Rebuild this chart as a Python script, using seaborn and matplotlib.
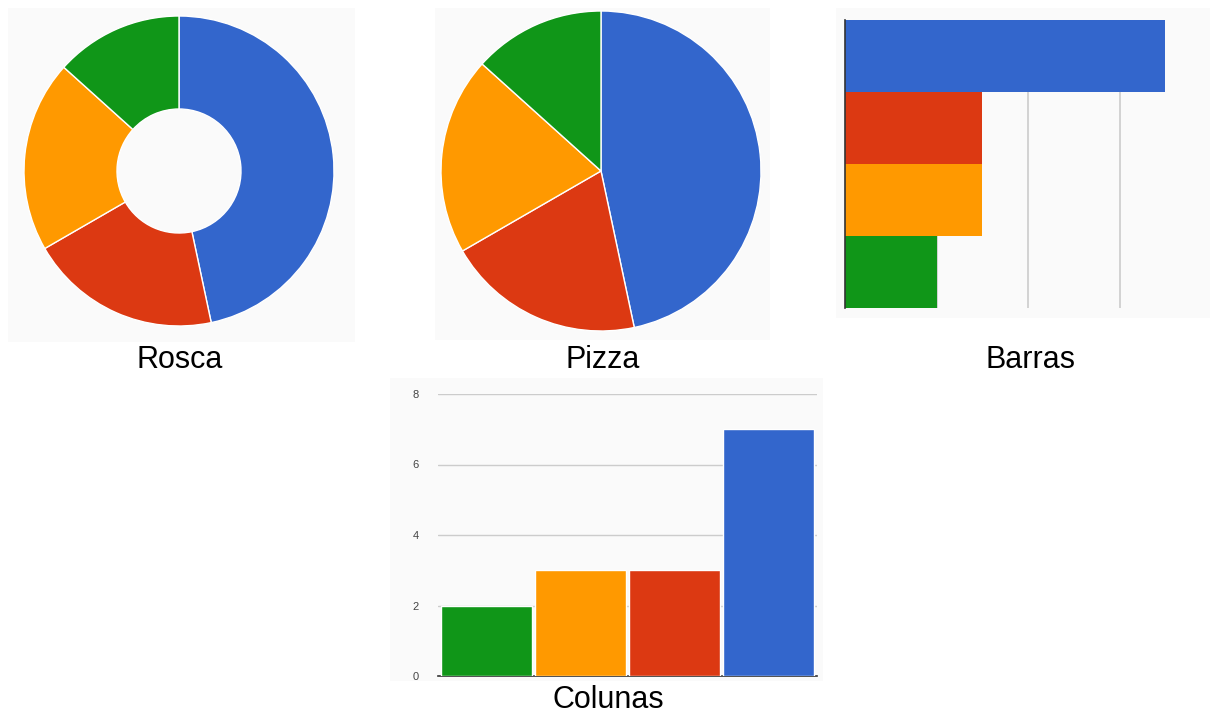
import matplotlib
matplotlib.use('Agg')
import matplotlib.pyplot as plt
import seaborn as sns
from matplotlib.patches import Rectangle

# Data: same four categories shown four ways
categories = ['Azul', 'Vermelho', 'Laranja', 'Verde']
values = [7, 3, 3, 2]
colors = ['#3366cc', '#dc3912', '#ff9900', '#109618']

# Column chart order (ascending)
col_categories = ['Verde', 'Laranja', 'Vermelho', 'Azul']
col_values = [2, 3, 3, 7]
col_colors = ['#109618', '#ff9900', '#dc3912', '#3366cc']

col_ticks = [0, 2, 4, 6, 8]
bar_grid = [2, 4, 6]

sns.set_theme(style='white')
plt.rcParams['font.family'] = ['Liberation Sans', 'DejaVu Sans']

W, H = 1210, 713
fig = plt.figure(figsize=(W / 100, H / 100), dpi=100)
fig.patch.set_facecolor('white')
BG = '#fafafa'


def rect(x0, y0, x1, y1):
    # pixel box (top-left origin) -> figure fraction
    return [x0 / W, 1 - y1 / H, (x1 - x0) / W, (y1 - y0) / H]


def background(x0, y0, x1, y1):
    l, b, w, h = rect(x0, y0, x1, y1)
    fig.patches.append(Rectangle((l, b), w, h, transform=fig.transFigure,
                                 facecolor=BG, edgecolor='none', zorder=-10))


def label(x, y, text):
    fig.text(x / W, 1 - y / H, text, ha='center', va='center', fontsize=22, color='black')


# --- Rosca (donut) ---
background(8, 8, 355, 342)
cx, cy, r = 179, 171, 155
ax1 = fig.add_axes(rect(cx - r, cy - r, cx + r, cy + r))
ax1.pie(values, colors=colors, startangle=90, counterclock=False, radius=1,
        wedgeprops=dict(width=0.6, edgecolor='white', linewidth=1.0))
ax1.set_xlim(-1, 1)
ax1.set_ylim(-1, 1)
ax1.axis('off')
label(180, 360, 'Rosca')

# --- Pizza (pie) ---
background(435, 8, 770, 340)
cx, cy, r = 601, 171, 160
ax2 = fig.add_axes(rect(cx - r, cy - r, cx + r, cy + r))
ax2.pie(values, colors=colors, startangle=90, counterclock=False, radius=1,
        wedgeprops=dict(edgecolor='white', linewidth=1.0))
ax2.set_xlim(-1, 1)
ax2.set_ylim(-1, 1)
ax2.axis('off')
label(603, 360, 'Pizza')

# --- Barras (horizontal bars) ---
background(836, 8, 1210, 318)
ax3 = fig.add_axes(rect(845, 20, 1211, 308))
ax3.set_facecolor('none')
sns.barplot(x=values, y=categories, hue=categories, palette=colors, orient='h',
            width=1.0, legend=False, saturation=1, ax=ax3, zorder=3,
            linewidth=0, edgecolor='none')
for g in bar_grid:
    ax3.axvline(g, color='#cccccc', linewidth=1.2, zorder=1)
ax3.set_xlim(0, 8)
ax3.set_ylim(3.5, -0.5)
ax3.set_xticks([])
ax3.set_yticks([])
ax3.set_xlabel('')
ax3.set_ylabel('')
for s in ['top', 'right', 'bottom']:
    ax3.spines[s].set_visible(False)
ax3.spines['left'].set_color('#333333')
ax3.spines['left'].set_linewidth(1.2)
ax3.spines['left'].set_zorder(5)
label(1030, 360, 'Barras')

# --- Colunas (vertical columns) ---
background(390, 378, 823, 681)
ax4 = fig.add_axes(rect(438, 394, 817, 676))
ax4.set_facecolor('none')
sns.barplot(x=col_categories, y=col_values, hue=col_categories, palette=col_colors,
            width=0.97, legend=False, saturation=1, ax=ax4, zorder=3,
            edgecolor='white', linewidth=1)
ax4.set_ylim(0, 8)
ax4.set_xlim(-0.52, 3.52)
ax4.set_yticks(col_ticks)
ax4.set_yticklabels([str(t) for t in col_ticks], fontsize=8, color='#444444')
ax4.tick_params(axis='y', length=0, pad=14)
ax4.set_xticks([])
ax4.set_xlabel('')
ax4.set_ylabel('')
ax4.yaxis.grid(True, color='#cccccc', linewidth=1)
ax4.set_axisbelow(True)
for s in ['top', 'right', 'left']:
    ax4.spines[s].set_visible(False)
ax4.spines['bottom'].set_color('#333333')
ax4.spines['bottom'].set_linewidth(1.2)
label(608, 700, 'Colunas')

fig.savefig('out.png', dpi=100)
